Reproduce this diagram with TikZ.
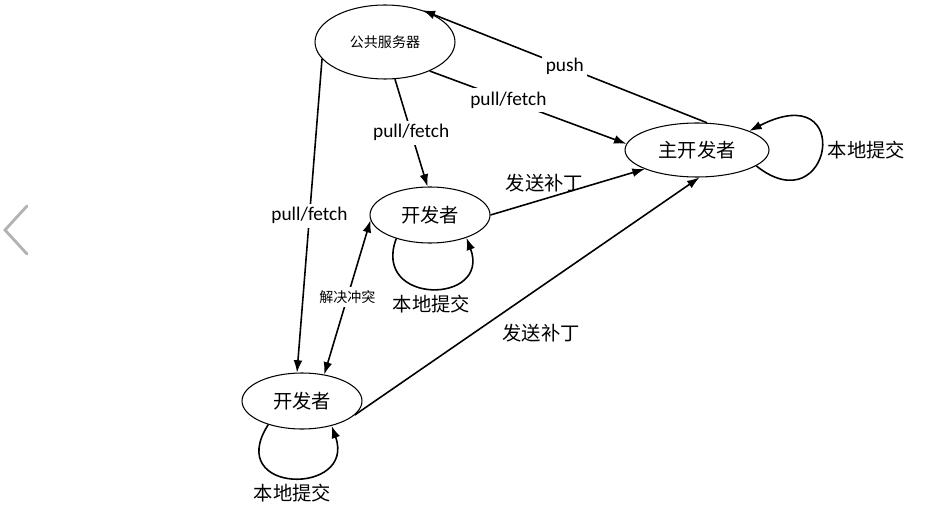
\documentclass[tikz,border=0pt]{standalone}
\usepackage{fontspec}
\setmainfont{Carlito}
\newfontfamily\cjk{Noto Sans CJK SC}
\usetikzlibrary{shapes.geometric,arrows.meta}

\begin{document}
\begin{tikzpicture}[x=0.02cm, y=-0.02cm,
    repo/.style ={ellipse, draw, semithick, inner sep=0pt, font=\cjk\fontsize{11}{13}\selectfont},
    flow/.style ={line width=0.9pt, -{Latex[length=7pt,width=5pt]}},
    both/.style ={line width=0.9pt, {Latex[length=7pt,width=5pt]}-{Latex[length=7pt,width=5pt]}},
    cut/.style ={fill=white, inner sep=2pt, font=\fontsize{11}{13}\selectfont},
    zh/.style ={font=\cjk\fontsize{11}{13}\selectfont}]
   \useasboundingbox (0,0) rectangle (945,513);
   \node[repo, minimum width=2.8cm, minimum height=1.48cm, font=\cjk\fontsize{8}{10}\selectfont] (S) at (385,42) {公共服务器};
   \node[repo, minimum width=2.88cm, minimum height=1.08cm] (M) at (697,150) {主开发者};
   \node[repo, minimum width=2.4cm, minimum height=1.12cm] (A) at (430,215) {开发者};
   \node[repo, minimum width=2.4cm, minimum height=1.12cm] (B) at (302,401) {开发者};
   \draw[flow] (M.70) to node[cut] {push} (S.40);
   \draw[flow] (S.-33) to node[cut, pos=.4] {pull/fetch} (M.175);
   \draw[flow] (S.-75) to node[cut] {pull/fetch} (A.95);
   \draw[flow] (S.195) to node[cut] {pull/fetch} (B.100);
   \draw[flow] (A.east) to node[zh, above, pos=.35] {发送补丁} (M.-160);
   \draw[flow] (B.-15) to node[zh, below right, pos=.41] {发送补丁} (M.-85);
   \draw[both] (B.50) to node[cut, font=\cjk\fontsize{8}{10}\selectfont] {解决冲突} (A.185);
   \draw[flow] (M.-15) .. controls +(75,60) and +(107,-55) .. node[zh, right] {本地提交} (M.20);
   \draw[flow] (A.-145) .. controls +(-25,67) and +(25,67) .. node[zh, below] {本地提交} (A.-32);
   \draw[flow] (B.-145) .. controls +(-45,70) and +(25,70) .. node[zh, below] {本地提交} (B.-40);
   % page arrow at the left edge
   \draw[gray!60, line width=1.6pt, line cap=round] (27,206) -- (5,230) -- (27,254);
 \end{tikzpicture}
\end{document}
